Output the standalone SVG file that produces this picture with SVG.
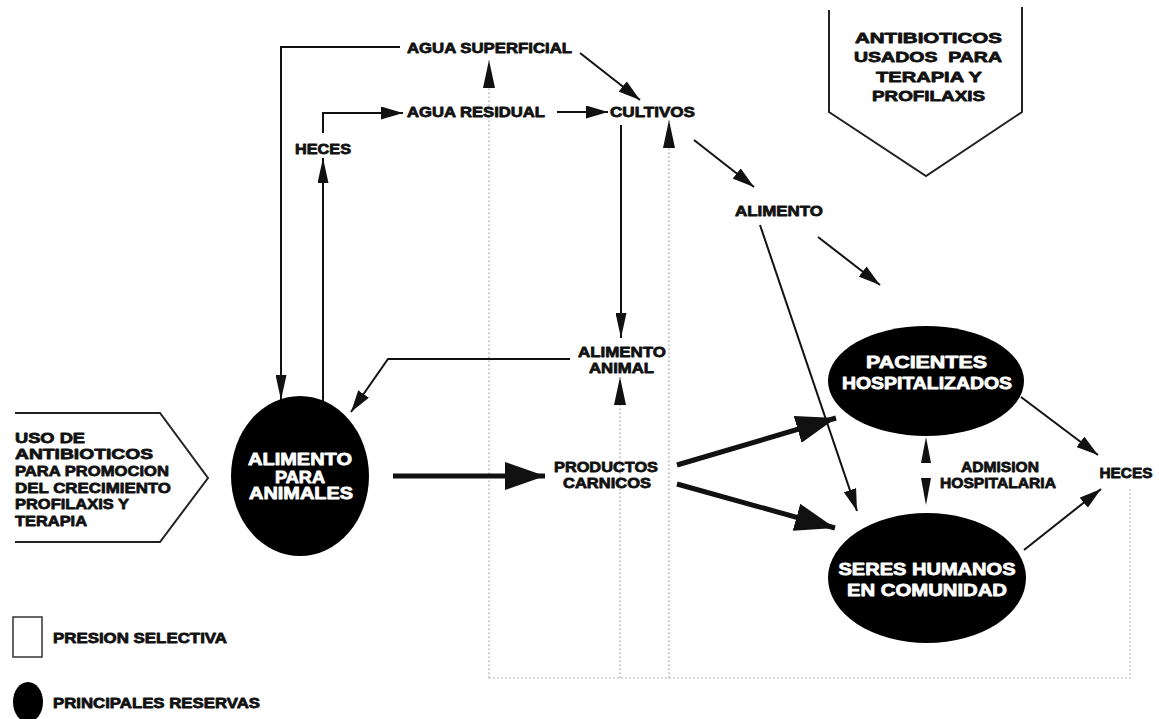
<svg xmlns="http://www.w3.org/2000/svg" width="1159" height="719" viewBox="0 0 1159 719">
  <style>
    .lbl { font-family: "Liberation Sans", Arial, sans-serif; font-weight: bold; font-size: 15.5px; fill: #111; stroke: #111; stroke-width: 0.8; stroke-linejoin: round; text-anchor: middle; }
    .left { text-anchor: start; }
    .wht { fill: #fff; stroke: #fff; font-size: 16.5px; }
    .big { font-size: 17px; }
    .ln { fill: none; stroke: #111; stroke-width: 2; }
    .thick { stroke-width: 5; }
    .dot { fill: none; stroke: #a0a0a0; stroke-width: 1.2; stroke-dasharray: 1.5 2.5; }
    .res { fill: #000; }
    .frame { fill: none; stroke: #222; stroke-width: 2; }
  </style>
  <defs>
    <marker id="ah" markerUnits="userSpaceOnUse" markerWidth="22" markerHeight="13" refX="22" refY="6.5" orient="auto">
      <path d="M0,0 L22,6.5 L0,13 z" fill="#111"/>
    </marker>
    <marker id="ahNarrow" markerUnits="userSpaceOnUse" markerWidth="25" markerHeight="11" refX="25" refY="5.5" orient="auto">
      <path d="M0,0 L25,5.5 L0,11 z" fill="#111"/>
    </marker>
    <marker id="ahBig" markerUnits="userSpaceOnUse" markerWidth="40" markerHeight="28" refX="40" refY="14" orient="auto">
      <path d="M0,0 L40,14 L0,28 z" fill="#111"/>
    </marker>
    <marker id="ahTall" markerUnits="userSpaceOnUse" markerWidth="28" markerHeight="12" refX="28" refY="6" orient="auto">
      <path d="M0,0 L28,6 L0,12 z" fill="#111"/>
    </marker>
  </defs>

  <rect width="1159" height="719" fill="#fff"/>

  <!-- connectors -->
  <g id="connectors">
    <!-- dotted feedback paths -->
    <path class="dot" d="M489,678 H1130 V487"/>
    <path class="dot" d="M489,678 V60" marker-end="url(#ahTall)"/>
    <path class="dot" d="M620,678 V377" marker-end="url(#ahTall)"/>
    <path class="dot" d="M669,678 V120" marker-end="url(#ahTall)"/>

    <!-- thin flows -->
    <path class="ln" d="M400,47 H281 V400" marker-end="url(#ahNarrow)"/>
    <path class="ln" d="M323,402 V158" marker-end="url(#ahNarrow)"/>
    <path class="ln" d="M323,133 V113 H403" marker-end="url(#ah)"/>
    <path class="ln" d="M557,112 H608" marker-end="url(#ah)"/>
    <path class="ln" d="M580,53 L640,100" marker-end="url(#ah)"/>
    <path class="ln" d="M621,125 V338" marker-end="url(#ahNarrow)"/>
    <path class="ln" d="M570,359 H388 L351,412" marker-end="url(#ah)"/>
    <path class="ln" d="M694,140 L754,187" marker-end="url(#ah)"/>
    <path class="ln" d="M818,237 L880,285" marker-end="url(#ah)"/>
    <path class="ln" d="M760,225 L857,511" marker-end="url(#ah)"/>
    <path class="ln" d="M1021,397 L1098,455" marker-end="url(#ah)"/>
    <path class="ln" d="M1024,550 L1101,489" marker-end="url(#ah)"/>

    <!-- hospital admission, both ways -->
    <path d="M926,437 L931,463 L921,463 z" fill="#111"/>
    <path d="M926,505 L931,478 L921,478 z" fill="#111"/>

    <!-- main thick flows -->
    <path class="ln thick" d="M393,476 H545" marker-end="url(#ahBig)"/>
    <path class="ln thick" d="M677,465 L836,418" marker-end="url(#ahBig)"/>
    <path class="ln thick" d="M677,484 L835,528" marker-end="url(#ahBig)"/>
  </g>

  <!-- selective pressure: antibiotics for therapy and prophylaxis -->
  <g id="presion-terapia">
    <polyline class="frame" points="829,10 829,112 926,176 1022,112 1022,7"/>
    <text class="lbl" x="928.5" y="43" textLength="147" lengthAdjust="spacingAndGlyphs">ANTIBIOTICOS</text>
    <text class="lbl" x="928" y="62" textLength="148" lengthAdjust="spacingAndGlyphs" xml:space="preserve">USADOS  PARA</text>
    <text class="lbl" x="929" y="82" textLength="106" lengthAdjust="spacingAndGlyphs">TERAPIA Y</text>
    <text class="lbl" x="928.5" y="101" textLength="113" lengthAdjust="spacingAndGlyphs">PROFILAXIS</text>
  </g>

  <!-- selective pressure: growth promotion -->
  <g id="presion-crecimiento">
    <polyline class="frame" points="15,413 160,413 208,478 160,542 15,542"/>
    <text class="lbl left" x="15" y="443" textLength="70" lengthAdjust="spacingAndGlyphs">USO DE</text>
    <text class="lbl left" x="15" y="459" textLength="138" lengthAdjust="spacingAndGlyphs">ANTIBIOTICOS</text>
    <text class="lbl left" x="15" y="476" textLength="154" lengthAdjust="spacingAndGlyphs">PARA PROMOCION</text>
    <text class="lbl left" x="15" y="493" textLength="156" lengthAdjust="spacingAndGlyphs">DEL CRECIMIENTO</text>
    <text class="lbl left" x="15" y="509" textLength="114" lengthAdjust="spacingAndGlyphs">PROFILAXIS Y</text>
    <text class="lbl left" x="15" y="526" textLength="72" lengthAdjust="spacingAndGlyphs">TERAPIA</text>
  </g>

  <!-- reservoirs -->
  <g id="alimento-animales">
    <ellipse class="res" cx="300" cy="476" rx="69" ry="80"/>
    <text class="lbl wht" x="300" y="465" textLength="104" lengthAdjust="spacingAndGlyphs">ALIMENTO</text>
    <text class="lbl wht" x="300" y="483" textLength="50" lengthAdjust="spacingAndGlyphs">PARA</text>
    <text class="lbl wht" x="301" y="499" textLength="104" lengthAdjust="spacingAndGlyphs">ANIMALES</text>
  </g>

  <g id="pacientes">
    <ellipse class="res" cx="926" cy="381" rx="98" ry="55"/>
    <text class="lbl wht big" x="926.5" y="368" textLength="121" lengthAdjust="spacingAndGlyphs">PACIENTES</text>
    <text class="lbl wht big" x="927" y="389" textLength="170" lengthAdjust="spacingAndGlyphs">HOSPITALIZADOS</text>
  </g>

  <g id="seres-humanos">
    <ellipse class="res" cx="927" cy="578" rx="99" ry="65"/>
    <text class="lbl wht big" x="927" y="575" textLength="177" lengthAdjust="spacingAndGlyphs">SERES HUMANOS</text>
    <text class="lbl wht big" x="927" y="596" textLength="160" lengthAdjust="spacingAndGlyphs">EN COMUNIDAD</text>
  </g>

  <!-- intermediate stages -->
  <g id="agua-superficial">
    <text class="lbl" x="489.5" y="53" textLength="165" lengthAdjust="spacingAndGlyphs">AGUA SUPERFICIAL</text>
  </g>
  <g id="agua-residual">
    <text class="lbl" x="476" y="117" textLength="138" lengthAdjust="spacingAndGlyphs">AGUA RESIDUAL</text>
  </g>
  <g id="cultivos">
    <text class="lbl" x="652.5" y="117" textLength="85" lengthAdjust="spacingAndGlyphs">CULTIVOS</text>
  </g>
  <g id="heces-animales">
    <text class="lbl" x="323" y="154" textLength="56" lengthAdjust="spacingAndGlyphs">HECES</text>
  </g>
  <g id="alimento">
    <text class="lbl" x="779" y="216" textLength="88" lengthAdjust="spacingAndGlyphs">ALIMENTO</text>
  </g>
  <g id="alimento-animal">
    <text class="lbl" x="622" y="357" textLength="88" lengthAdjust="spacingAndGlyphs">ALIMENTO</text>
    <text class="lbl" x="621.5" y="373" textLength="65" lengthAdjust="spacingAndGlyphs">ANIMAL</text>
  </g>
  <g id="productos-carnicos">
    <text class="lbl" x="606" y="472" textLength="104" lengthAdjust="spacingAndGlyphs">PRODUCTOS</text>
    <text class="lbl" x="607" y="488" textLength="88" lengthAdjust="spacingAndGlyphs">CARNICOS</text>
  </g>
  <g id="admision">
    <text class="lbl" x="1000" y="472" textLength="78" lengthAdjust="spacingAndGlyphs">ADMISION</text>
    <text class="lbl" x="998" y="488" textLength="116" lengthAdjust="spacingAndGlyphs">HOSPITALARIA</text>
  </g>
  <g id="heces-humanas">
    <text class="lbl" x="1126" y="478" textLength="53" lengthAdjust="spacingAndGlyphs">HECES</text>
  </g>

  <!-- key -->
  <g id="leyenda">
    <rect x="13" y="617" width="29" height="40" fill="none" stroke="#333" stroke-width="1.5"/>
    <text class="lbl left" x="53" y="643" textLength="174" lengthAdjust="spacingAndGlyphs">PRESION SELECTIVA</text>
    <ellipse class="res" cx="28" cy="702" rx="15" ry="20"/>
    <text class="lbl left" x="53" y="708" textLength="207" lengthAdjust="spacingAndGlyphs">PRINCIPALES RESERVAS</text>
  </g>
</svg>
